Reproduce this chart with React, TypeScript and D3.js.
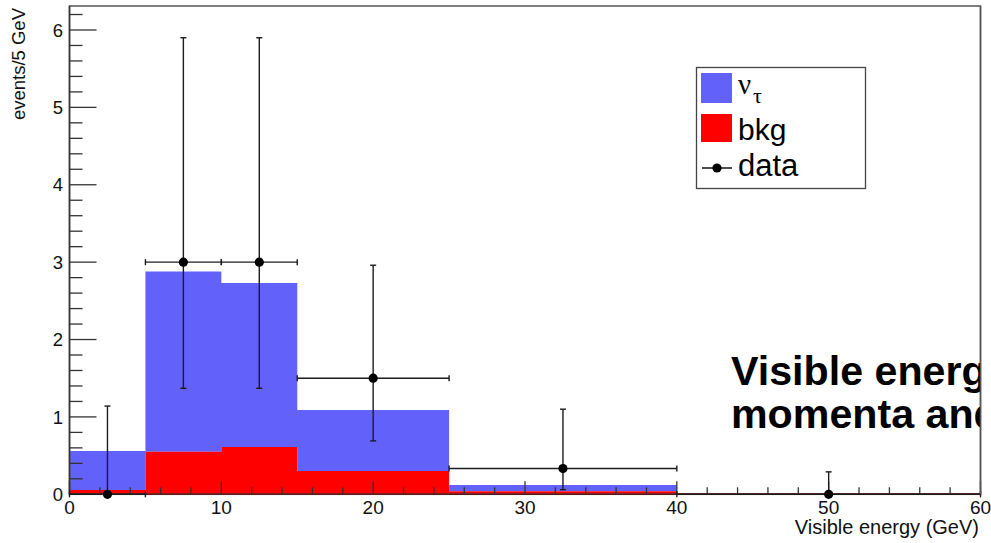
import React from "react";
import * as d3 from "d3";

// Visible-energy histogram: stacked nu_tau signal over background, with data points.
const binEdges = [0, 5, 10, 15, 20, 25, 30, 35, 40, 45, 50, 55, 60];
const bkgValues = [0.055, 0.55, 0.61, 0.30, 0.30, 0.04, 0.04, 0.04, 0.012, 0.012, 0.012, 0.012];
const nuTauValues = [0.505, 2.33, 2.12, 0.79, 0.79, 0.08, 0.08, 0.08, 0, 0, 0, 0];

const dataX = [2.5, 7.5, 12.5, 20, 32.5, 50];
const dataXLo = [0, 5, 10, 15, 25, 40];
const dataXHi = [5, 10, 15, 25, 40, 60];
const dataY = [0, 3, 3, 1.5, 0.333, 0];
const dataYLo = [0, 1.37, 1.37, 0.69, 0.06, 0];
const dataYHi = [1.14, 5.9, 5.9, 2.96, 1.1, 0.29];

const xTickLabels = [0, 10, 20, 30, 40, 50, 60];
const yTickLabels = [0, 1, 2, 3, 4, 5, 6];

const W = 991;
const H = 543;
const left = 69.5;
const right = 980.5;
const top = 6;
const bottom = 494.3;

const x = d3.scaleLinear().domain([0, 60]).range([left, right]);
const y = d3.scaleLinear().domain([0, 6.31]).range([bottom, top]);

const FONT = "'Liberation Sans', Arial, Helvetica, sans-serif";
const SERIF = "'Liberation Serif', 'DejaVu Serif', serif";

function stepPath(lower: number[], upper: number[]) {
  const pts = binEdges.map((e, i) => {
    const k = Math.min(i, lower.length - 1);
    return { e, lo: lower[k], hi: upper[k] };
  });
  const area = d3
    .area<{ e: number; lo: number; hi: number }>()
    .x((d) => x(d.e))
    .y0((d) => y(d.lo))
    .y1((d) => y(d.hi))
    .curve(d3.curveStepAfter);
  return area(pts) || "";
}

export default function App() {
  const zeros = bkgValues.map(() => 0);
  const total = bkgValues.map((b, i) => b + nuTauValues[i]);

  const yMinor = d3.range(0, 6.31, 0.2).map((v) => +v.toFixed(2));
  const xMinor = d3.range(0, 60.01, 2);

  const capW = 3;
  const tickH = 3;
  const ink = "#1c1c1c";

  return (
    <svg
      width={W}
      height={H}
      style={{ position: "absolute", left: 0, top: 0, background: "#fff" }}
      fontFamily={FONT}
    >
      <defs>
        <clipPath id="frameClip">
          <rect x={0} y={0} width={right} height={H} />
        </clipPath>
      </defs>
      <rect x={0} y={0} width={W} height={H} fill="#fff" />

      {/* stacked histograms */}
      <path d={stepPath(bkgValues, total)} fill="#6262fb" />
      <path d={stepPath(zeros, bkgValues)} fill="#ff0000" />

      {/* frame */}
      <rect
        x={left}
        y={top}
        width={right - left}
        height={bottom - top}
        fill="none"
        stroke="#555"
        strokeWidth={1.5}
      />
      <line x1={left} x2={left} y1={top} y2={bottom} stroke="#333" strokeWidth={1.5} />
      <line x1={left} x2={right} y1={bottom} y2={bottom} stroke="#5a1a1a" strokeWidth={1.5} />

      {/* y axis ticks */}
      {yMinor.map((v) => {
        const major = Math.abs(v - Math.round(v)) < 1e-6;
        return (
          <line
            key={"ym" + v}
            x1={left}
            x2={left + (major ? 27 : 13)}
            y1={y(v)}
            y2={y(v)}
            stroke="#333"
            strokeWidth={1.3}
          />
        );
      })}
      {yTickLabels.map((v) => (
        <text
          key={"yl" + v}
          x={63}
          y={y(v)}
          dy="0.36em"
          textAnchor="end"
          fontSize={18.5}
          fill="#111"
        >
          {v}
        </text>
      ))}

      {/* x axis ticks */}
      {xMinor.map((v) => {
        const major = v % 10 === 0;
        return (
          <line
            key={"xm" + v}
            x1={x(v)}
            x2={x(v)}
            y1={bottom}
            y2={bottom - (major ? 13 : 7)}
            stroke="#333"
            strokeWidth={1.3}
          />
        );
      })}
      {xTickLabels.map((v) => (
        <text
          key={"xl" + v}
          x={x(v)}
          y={514}
          textAnchor="middle"
          fontSize={19}
          fill="#111"
        >
          {v}
        </text>
      ))}

      {/* data points with error bars */}
      {dataX.map((cx, i) => (
        <g key={"pt" + i} stroke={ink} strokeWidth={1.4}>
          <line x1={x(dataXLo[i])} x2={x(dataXHi[i])} y1={y(dataY[i])} y2={y(dataY[i])} />
          <line
            x1={x(dataXLo[i])}
            x2={x(dataXLo[i])}
            y1={y(dataY[i]) - tickH}
            y2={y(dataY[i]) + tickH}
          />
          <line
            x1={x(dataXHi[i])}
            x2={x(dataXHi[i])}
            y1={y(dataY[i]) - tickH}
            y2={y(dataY[i]) + tickH}
          />
          <line x1={x(cx)} x2={x(cx)} y1={y(dataYLo[i])} y2={y(dataYHi[i])} />
          <line x1={x(cx) - capW} x2={x(cx) + capW} y1={y(dataYHi[i])} y2={y(dataYHi[i])} />
          {dataYLo[i] > 0 && (
            <line x1={x(cx) - capW} x2={x(cx) + capW} y1={y(dataYLo[i])} y2={y(dataYLo[i])} />
          )}
          <circle cx={x(cx)} cy={y(dataY[i])} r={4.6} fill="#000" stroke="none" />
        </g>
      ))}

      {/* axis titles */}
      <text
        transform={`translate(25, 8) rotate(-90)`}
        textAnchor="end"
        fontSize={18.5}
        fill="#111"
      >
        events/5 GeV
      </text>
      <text x={979} y={534} textAnchor="end" fontSize={20} fill="#111">
        Visible energy (GeV)
      </text>

      {/* legend */}
      <rect x={696.5} y={67.5} width={169} height={121} fill="#fff" stroke="#444" strokeWidth={1.3} />
      <rect x={701} y={73} width={31} height={30} fill="#6262fb" />
      <text x={738} y={94} fontSize={29} fontFamily={SERIF} fill="#000">
        ν
      </text>
      <text x={753} y={103} fontSize={22} fontFamily={SERIF} fill="#000">
        τ
      </text>
      <rect x={701} y={114} width={31} height={28} fill="#ff0000" />
      <text x={738} y={140} fontSize={30} fill="#000">
        bkg
      </text>
      <line x1={702} x2={732} y1={168} y2={168} stroke="#000" strokeWidth={1.4} />
      <circle cx={717} cy={168} r={4.6} fill="#000" />
      <text x={738} y={176} fontSize={31} fill="#000">
        data
      </text>

      {/* overlaid caption, clipped at the frame edge */}
      <g clipPath="url(#frameClip)">
        <text
          transform="translate(731, 385) scale(1.03, 1)"
          fontSize={40}
          fontWeight="bold"
          fill="#000"
        >
          Visible energy of the
        </text>
        <text
          transform="translate(731, 428) scale(1.03, 1)"
          fontSize={40}
          fontWeight="bold"
          fill="#000"
        >
          momenta and angles
        </text>
      </g>
      <line x1={right} x2={right} y1={top} y2={bottom} stroke="#555" strokeWidth={1.5} />
    </svg>
  );
}
